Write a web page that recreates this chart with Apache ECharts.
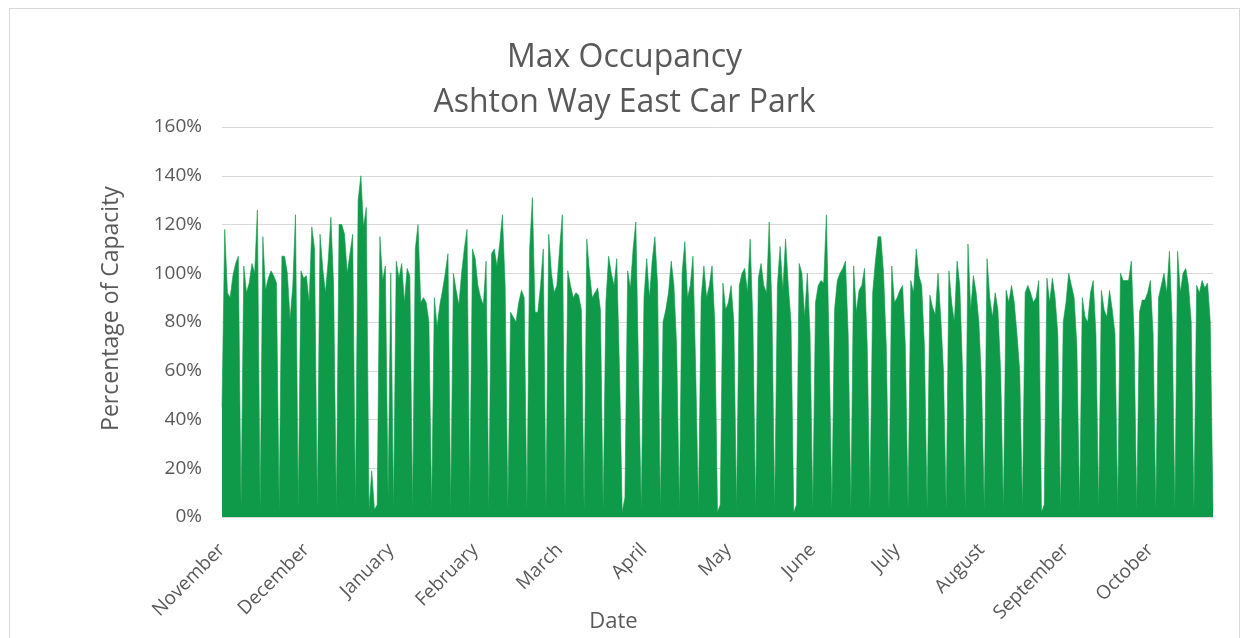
<!DOCTYPE html>
<html>
<head>
<meta charset="utf-8">
<script src="https://cdn.jsdelivr.net/npm/echarts@6/dist/echarts.min.js"></script>
<style>
  html, body { margin: 0; padding: 0; background: #ffffff; overflow: hidden; width: 1249px; height: 638px; }
  #frame { position: absolute; left: 9px; top: 8px; width: 1231px; height: 630px; border: 1px solid #d9d9d9; border-bottom: none; box-sizing: border-box; }
  #chart { position: absolute; left: 0; top: 0; width: 1249px; height: 638px; }
</style>
</head>
<body>
<div id="frame"></div>
<div id="chart"></div>
<script>
// Daily maximum occupancy (% of capacity), 1 Nov 2015 – 30 Oct 2016
const startDate = '2015-11-01';
const nov = [45,118,92,90,99,104,107,4,103,92,96,104,100,126,3,115,93,98,101,99,96,3,107,107,100,81,95,124,4,101];
const dec = [98,99,88,119,110,3,116,102,92,105,123,95,3,120,120,116,100,108,116,4,130,140,119,127,3,19,3,5,115,97,103];
const jan = [8,100,3,105,98,104,88,102,99,3,110,120,88,90,88,80,3,90,78,87,93,100,108,3,100,93,87,100,110,118,3];
const feb = [110,106,95,90,87,105,3,108,110,103,112,124,95,3,84,82,80,88,93,90,3,110,131,84,84,95,110,3,116];
const mar = [100,92,95,110,124,3,101,95,90,92,91,85,3,114,100,90,92,94,85,3,88,107,100,95,106,60,2,8,101,94,110];
const apr = [121,60,3,90,106,90,105,115,95,3,80,85,92,105,95,70,3,100,113,90,95,107,60,3,90,103,90,95,103,80];
const may = [2,5,96,85,88,95,80,3,95,100,102,92,114,80,3,98,104,95,92,121,85,3,95,111,93,114,95,80,2,5,104];
const jun = [100,82,100,75,3,88,95,97,96,124,70,3,85,97,100,102,105,75,3,103,84,93,95,102,70,3,92,105,115,115];
const jul = [100,70,3,103,88,90,93,95,70,3,97,92,110,99,95,70,3,91,86,83,100,82,60,3,101,88,80,105,95,60,3];
const aug = [112,85,99,92,80,55,3,106,90,82,92,85,60,3,93,88,95,88,75,60,3,92,95,92,88,90,97,2,5,98,88];
const sep = [98,90,75,3,80,88,100,95,90,70,3,90,82,80,92,97,75,3,93,85,82,93,85,75,3,100,97,97,97,105];
const oct = [75,3,84,89,89,92,97,75,3,90,95,100,92,109,80,3,109,92,100,102,95,80,3,95,92,97,94,96,80,3];

const monthNames = ['January','February','March','April','May','June','July','August','September','October','November','December'];
const yTicks = [0, 20, 40, 60, 80, 100, 120, 140, 160];

const values = [].concat(nov, dec, jan, feb, mar, apr, may, jun, jul, aug, sep, oct);

// one category per day, starting at startDate
const dates = [];
const d0 = new Date(startDate + 'T00:00:00Z');
for (let i = 0; i < values.length; i++) {
  const d = new Date(d0.getTime() + i * 86400000);
  dates.push(d.toISOString().slice(0, 10));
}

const textColor = '#595959';
const font = '"Open Sans", "Liberation Sans", sans-serif';

const chart = echarts.init(document.getElementById('chart'), null, { renderer: 'canvas' });
chart.setOption({
  animation: false,
  backgroundColor: 'transparent',
  title: {
    text: 'Max Occupancy\nAshton Way East Car Park',
    left: 'center',
    top: 30,
    textStyle: { fontFamily: font, fontSize: 32, fontWeight: 'normal', color: textColor, lineHeight: 45 }
  },
  grid: { left: 222, right: 36, top: 127, bottom: 121, containLabel: false, outerBoundsMode: 'none' },
  xAxis: {
    type: 'category',
    data: dates,
    boundaryGap: false,
    name: 'Date',
    nameLocation: 'middle',
    nameGap: 94,
    nameMoveOverlap: false,
    nameTextStyle: { fontFamily: font, fontSize: 22, color: textColor, padding: [0, 208, 0, 0] },
    axisLine: { show: true, lineStyle: { color: '#d9d9d9' } },
    axisTick: { show: false },
    axisLabel: {
      interval: 30,
      rotate: 45,
      margin: 30,
      fontFamily: font,
      fontSize: 19,
      color: textColor,
      formatter: v => monthNames[parseInt(v.slice(5, 7), 10) - 1]
    },
    splitLine: { show: false }
  },
  yAxis: {
    type: 'value',
    min: yTicks[0],
    max: yTicks[yTicks.length - 1],
    interval: 20,
    name: 'Percentage of Capacity',
    nameLocation: 'middle',
    nameGap: 99,
    nameTextStyle: { fontFamily: font, fontSize: 23, color: textColor, padding: [0, 0, 0, 27] },
    axisLine: { show: false },
    axisTick: { show: false },
    axisLabel: { margin: 20, fontFamily: font, fontSize: 19, color: textColor, formatter: v => v + '%' },
    splitLine: { show: true, lineStyle: { color: '#d9d9d9', width: 1 } }
  },
  series: [{
    type: 'line',
    data: values,
    showSymbol: false,
    symbol: 'none',
    lineStyle: { width: 0.6, color: '#0f9a4a' },
    areaStyle: { color: '#0f9a4a', opacity: 1 },
    z: 2
  }]
});
</script>
</body>
</html>
